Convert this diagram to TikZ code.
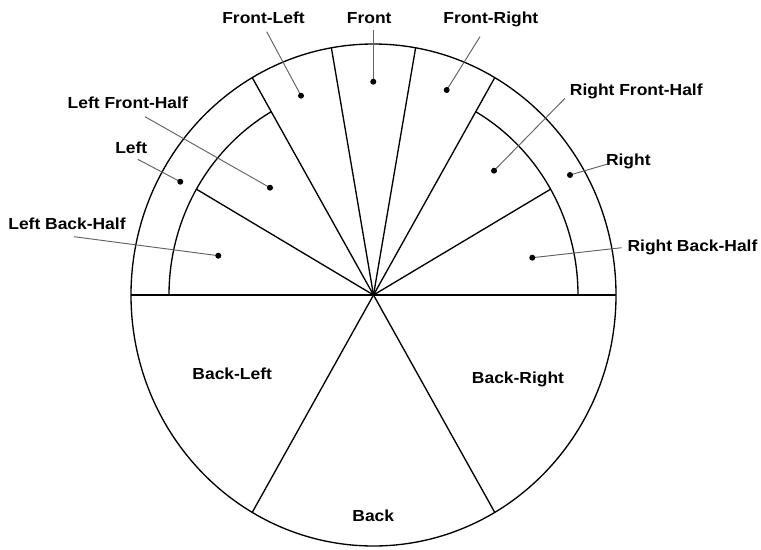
\documentclass[tikz,border=0pt]{standalone}
\usepackage{fontspec}
\newfontfamily\lblfont{Liberation Sans}[FakeStretch=1.09]
\begin{document}
\begin{tikzpicture}[x=0.75pt,y=-0.75pt,
  edge/.style={line width=1pt, black},
  leader/.style={line width=0.7pt, black!62},
  lbl/.style={font=\lblfont\bfseries\fontsize{12pt}{14pt}\selectfont, inner sep=0pt, anchor=base},
  dotmark/.style={fill=black}]
\useasboundingbox (0,0) rectangle (761,550);
% wheel
\begin{scope}[shift={(373.5,295)}, yscale=-1.035]
  \coordinate (O) at (0,0);
  \coordinate (E) at (0:242.5);
  \coordinate (W) at (180:242.5);
  \draw[edge] (O) circle [radius=242.5];
  \draw[edge] (W) -- (E);
  \foreach \a in {60,80,100,120,240,300}{
    \draw[edge] (O) -- (\a:242.5);
  }
  \foreach \a in {30,150}{
    \draw[edge] (O) -- (\a:204.5);
  }
  \draw[edge] (0:204.5) arc[start angle=0, end angle=60, radius=204.5];
  \draw[edge] (120:204.5) arc[start angle=120, end angle=180, radius=204.5];
\end{scope}
% labels
\node[lbl] (tFL) at (263.5,23.3) {Front-Left};
\node[lbl] (tF)  at (369.2,23.3) {Front};
\node[lbl] (tFR) at (490.8,23.3) {Front-Right};
\node[lbl] (tLFH) at (127.8,108.3) {Left Front-Half};
\node[lbl] (tL)  at (131.3,153.3) {Left};
\node[lbl] (tLBH) at (67,229) {Left Back-Half};
\node[lbl] (tRFH) at (636.3,95.7) {Right Front-Half};
\node[lbl] (tR)  at (628.3,165) {Right};
\node[lbl] (tRBH) at (692.5,251) {Right Back-Half};
\node[lbl] (tBL) at (232.2,379.3) {Back-Left};
\node[lbl] (tBR) at (518,383.3) {Back-Right};
\node[lbl] (tB)  at (373.3,521) {Back};
% leader ends
\coordinate (sFL) at (266.7,31.7);   \coordinate (dFL) at (301,95.7);
\coordinate (sF)  at (373.3,30);     \coordinate (dF)  at (373.3,81.7);
\coordinate (sFR) at (480,36.7);     \coordinate (dFR) at (446.7,90);
\coordinate (sLFH) at (145,116.7);   \coordinate (dLFH) at (270,187.7);
\coordinate (sL)  at (137.7,159.3);  \coordinate (dL)  at (180.3,181.7);
\coordinate (sLBH) at (74,236.7);    \coordinate (dLBH) at (218.3,255.7);
\coordinate (sRFH) at (565,98.3);    \coordinate (dRFH) at (494,170.7);
\coordinate (sR)  at (606.7,164.3);  \coordinate (dR)  at (570,175);
\coordinate (sRBH) at (621.7,247.7); \coordinate (dRBH) at (532.3,257.7);
\foreach \k in {FL,F,FR,LFH,L,LBH,RFH,R,RBH}{
  \draw[leader] (s\k) -- (d\k);
  \fill[dotmark] (d\k) circle [radius=3];
}
\end{tikzpicture}
\end{document}
